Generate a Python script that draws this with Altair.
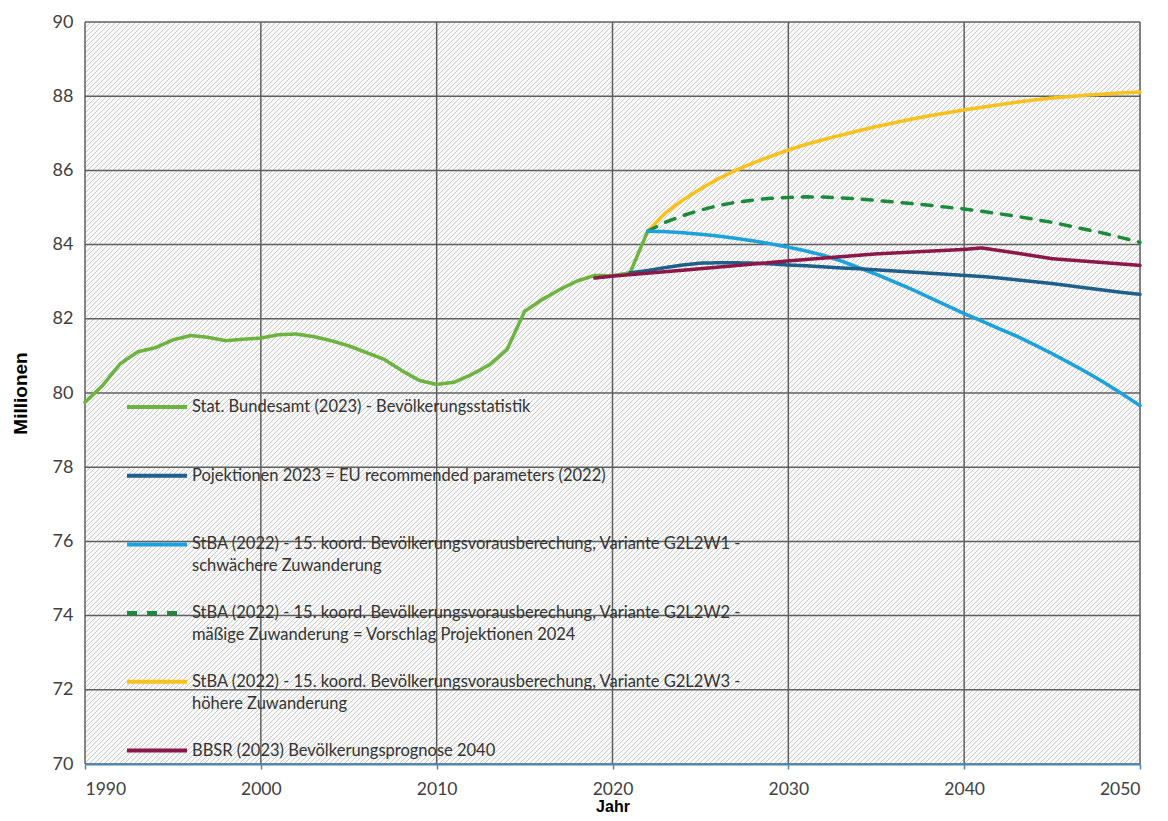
import altair as alt
import pandas as pd

# ---------------- data ----------------
hist_years = list(range(1990, 2023))
hist_vals = [79.75, 80.20, 80.79, 81.11, 81.22, 81.43, 81.55, 81.50, 81.41, 81.45,
             81.48, 81.57, 81.59, 81.52, 81.41, 81.27, 81.09, 80.91, 80.61, 80.34,
             80.23, 80.29, 80.50, 80.76, 81.17, 82.20, 82.52, 82.79, 83.02, 83.17,
             83.16, 83.24, 84.36]

proj_years = list(range(2022, 2051))
w1_vals = [84.36, 84.35, 84.32, 84.28, 84.23, 84.17, 84.10, 84.02, 83.93, 83.83,
           83.71, 83.56, 83.38, 83.20, 83.00, 82.80, 82.58, 82.36, 82.14, 81.94,
           81.73, 81.53, 81.30, 81.06, 80.81, 80.55, 80.27, 79.97, 79.66]
w2_vals = [84.36, 84.60, 84.78, 84.93, 85.05, 85.14, 85.20, 85.25, 85.27, 85.29,
           85.28, 85.26, 85.23, 85.19, 85.15, 85.11, 85.06, 85.01, 84.96, 84.90,
           84.83, 84.76, 84.68, 84.60, 84.50, 84.40, 84.30, 84.18, 84.06]
w3_vals = [84.36, 84.85, 85.20, 85.50, 85.77, 86.00, 86.20, 86.38, 86.55, 86.70,
           86.83, 86.95, 87.07, 87.18, 87.28, 87.38, 87.47, 87.55, 87.63, 87.70,
           87.77, 87.84, 87.90, 87.95, 87.99, 88.03, 88.06, 88.09, 88.11]

eu_years = list(range(2021, 2051))
eu_vals = [83.24, 83.30, 83.38, 83.45, 83.50, 83.51, 83.51, 83.50, 83.48, 83.45,
           83.43, 83.40, 83.37, 83.35, 83.32, 83.29, 83.26, 83.23, 83.20, 83.17,
           83.14, 83.10, 83.05, 83.00, 82.95, 82.89, 82.83, 82.77, 82.71, 82.66]

bbsr_years = [2019, 2020, 2025, 2030, 2035, 2040, 2041, 2043, 2045, 2050]
bbsr_vals = [83.10, 83.15, 83.35, 83.56, 83.75, 83.87, 83.91, 83.77, 83.62, 83.44]

series_names = [
    "Stat. Bundesamt (2023) - Bevölkerungsstatistik",
    "Pojektionen 2023 = EU recommended parameters (2022)",
    "StBA (2022) - 15. koord. Bevölkerungsvorausberechung, Variante G2L2W1 -|schwächere Zuwanderung",
    "StBA (2022) - 15. koord. Bevölkerungsvorausberechung, Variante G2L2W2 -|mäßige Zuwanderung = Vorschlag Projektionen 2024",
    "StBA (2022) - 15. koord. Bevölkerungsvorausberechung, Variante G2L2W3 -|höhere Zuwanderung",
    "BBSR (2023) Bevölkerungsprognose 2040",
]
series_colors = ["#6cb33f", "#1f5f8b", "#1ba1db", "#1b8a3a", "#f9c11b", "#8c1748"]
series_dashes = [[1, 0], [1, 0], [1, 0], [10, 10], [1, 0], [1, 0]]

x_domain = [1990, 2050]
y_domain = [70, 90]
x_ticks = [1990, 2000, 2010, 2020, 2030, 2040, 2050]
y_ticks = [70, 72, 74, 76, 78, 80, 82, 84, 86, 88, 90]

# ---------------- tables ----------------
rows = []
for yr, v in zip(hist_years, hist_vals):
    rows.append({"year": yr, "value": v, "series": series_names[0]})
for yr, v in zip(proj_years, w3_vals):
    rows.append({"year": yr, "value": v, "series": series_names[4]})
for yr, v in zip(proj_years, w2_vals):
    rows.append({"year": yr, "value": v, "series": series_names[3]})
for yr, v in zip(proj_years, w1_vals):
    rows.append({"year": yr, "value": v, "series": series_names[2]})
for yr, v in zip(eu_years, eu_vals):
    rows.append({"year": yr, "value": v, "series": series_names[1]})
for yr, v in zip(bbsr_years, bbsr_vals):
    rows.append({"year": yr, "value": v, "series": series_names[5]})
df = pd.DataFrame(rows)

W, H = 1055, 742

# hatched background as a striped linear gradient (exact 5px period along x+y)
period = 5
n = -(-(W + H) // period)
L = n * period
base_col, line_col = "#f9f9f9", "#c9c9c9"
stops = [alt.GradientStop(offset=0, color=base_col)]
for i in range(n):
    a = (i + 0.1) / n
    b = (i + 0.3) / n
    stops += [alt.GradientStop(offset=a, color=base_col),
              alt.GradientStop(offset=a, color=line_col),
              alt.GradientStop(offset=b, color=line_col),
              alt.GradientStop(offset=b, color=base_col)]
stops.append(alt.GradientStop(offset=1, color=base_col))
denom = W * W + H * H
hatch = alt.LinearGradient(gradient="linear", stops=stops, x1=0, y1=0,
                           x2=L * W / denom, y2=L * H / denom)

xscale = alt.Scale(domain=x_domain, nice=False, zero=False)
yscale = alt.Scale(domain=y_domain, nice=False, zero=False)

xaxis = alt.Axis(values=x_ticks, format="d", grid=False, domainColor="#4a88b3",
                 domainWidth=2, tickColor="#4a88b3", tickWidth=1.5, tickSize=5,
                 labelFont="Lato", labelFontSize=17.5, labelColor="#404040",
                 labelPadding=11, titleFont="Liberation Sans", titleFontSize=16,
                 titleFontWeight="bold", titleColor="#000000", titleX=W / 2,
                 titleY=47, titleBaseline="alphabetic", titleAlign="center",
                 zindex=1)
yaxis = alt.Axis(values=y_ticks, grid=False, domain=False, ticks=False,
                 labelFont="Lato", labelFontSize=18, labelColor="#404040",
                 labelPadding=12, titleFont="Liberation Sans", titleFontSize=19,
                 titleFontWeight="bold", titleColor="#000000", titleX=-65,
                 titleY=H / 2, titleAngle=-90, titleBaseline="middle",
                 titleAlign="center", zindex=1)


def X(field):
    return alt.X(field, type="quantitative", scale=xscale, axis=xaxis, title="Jahr")


def Y(field):
    return alt.Y(field, type="quantitative", scale=yscale, axis=yaxis, title="Millionen")


bg_df = pd.DataFrame({"year": [x_domain[0]], "year2": [x_domain[1]],
                      "value": [y_domain[0]], "value2": [y_domain[1]]})
bg = alt.Chart(bg_df).mark_rect(fill=hatch).encode(
    x=X("year"), x2="year2", y=Y("value"), y2="value2")

vgrid = alt.Chart(pd.DataFrame({"year": x_ticks})).mark_rule(
    color="#5f5f5f", strokeWidth=1.5).encode(x=X("year"))
hgrid = alt.Chart(pd.DataFrame({"value": y_ticks})).mark_rule(
    color="#5f5f5f", strokeWidth=1.5).encode(y=Y("value"))

legend = alt.Legend(orient="none", legendX=40, legendY=353, direction="vertical",
                    columns=1, symbolType="stroke", symbolSize=3600,
                    symbolStrokeWidth=4, labelFont="Lato", labelFontSize=16.5,
                    labelColor="#333333", labelLimit=900, labelOffset=3,
                    rowPadding=5.7, padding=0, labelBaseline="middle",
                    labelExpr="indexof(datum.label, '|') >= 0 ? split(datum.label, '|') : [datum.label, '']")

lines = alt.Chart(df).mark_line(strokeWidth=3.5, strokeCap="round",
                                strokeJoin="round").encode(
    x=X("year"),
    y=Y("value"),
    color=alt.Color("series:N", scale=alt.Scale(domain=series_names, range=series_colors),
                    legend=legend, title=None),
    strokeDash=alt.StrokeDash("series:N", scale=alt.Scale(domain=series_names, range=series_dashes),
                              legend=legend, title=None),
)

chart = alt.layer(bg, vgrid, hgrid, lines).properties(
    width=W, height=H,
    autosize=alt.AutoSizeParams(type="none"),
    padding={"left": 77, "top": 14, "right": 20, "bottom": 49},
).configure_view(stroke="transparent").configure(
    style={"guide-label": {"lineHeight": 22}}
)

chart.save("out.html", embed_options={"renderer": "svg", "actions": False})
